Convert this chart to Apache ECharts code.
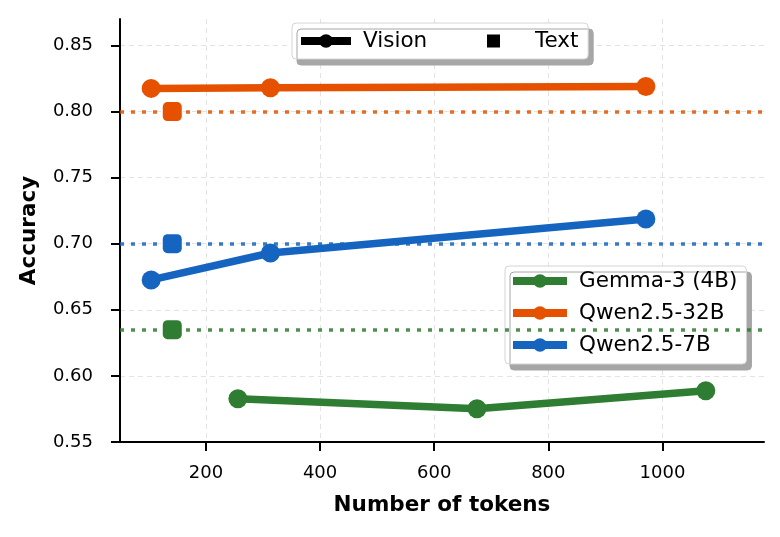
<!DOCTYPE html>
<html><head><meta charset="utf-8">
<script src="https://cdn.jsdelivr.net/npm/echarts@6/dist/echarts.min.js"></script>
<style>html,body{margin:0;padding:0;background:#fff}#c{width:780px;height:537px}</style>
</head><body><div id="c"></div>
<script>
const models = ['Gemma-3 (4B)', 'Qwen2.5-32B', 'Qwen2.5-7B'];
const colors = ['#2E7D32', '#E65100', '#1565C0'];
const gemmaTokens = [256, 675, 1076];
const gemmaVision = [0.5827, 0.5752, 0.5888];
const qwen32Tokens = [104, 313, 971];
const qwen32Vision = [0.8175, 0.818, 0.819];
const qwen7Tokens = [104, 313, 971];
const qwen7Vision = [0.6726, 0.693, 0.7187];
const textTokens = 141;
const textAcc = [0.635, 0.80, 0.70];
const xTicks = [200, 400, 600, 800, 1000];
const yTicks = [0.55, 0.60, 0.65, 0.70, 0.75, 0.80, 0.85];
const xRange = [49.4, 1178];
const yRange = [0.55, 0.87];

const FONT = 'DejaVu Sans';
const visionTok = [gemmaTokens, qwen32Tokens, qwen7Tokens];
const visionAcc = [gemmaVision, qwen32Vision, qwen7Vision];

const series = [];
models.forEach((m, i) => {
  series.push({
    name: m + ' text', type: 'scatter', symbol: 'roundRect', symbolSize: 19,
    itemStyle: {color: colors[i], opacity: 1}, z: 3,
    data: [[textTokens, textAcc[i]]],
    markLine: {
      silent: true, symbol: 'none', label: {show: false}, precision: 6,
      lineStyle: {color: colors[i], opacity: 0.85, width: 3.5, type: [4, 7], cap: 'butt'},
      data: [{yAxis: textAcc[i]}]
    }
  });
});
models.forEach((m, i) => {
  series.push({
    name: m, type: 'line', symbol: 'circle', symbolSize: 19, z: 4,
    itemStyle: {color: colors[i]}, lineStyle: {color: colors[i], width: 7.5},
    data: visionTok[i].map((t, j) => [t, visionAcc[i][j]])
  });
});
series.push({name: 'Vision', type: 'line', symbol: 'circle', itemStyle: {color: '#000'}, lineStyle: {color: '#000', width: 7}, data: []});
series.push({name: 'Text', type: 'scatter', symbol: 'rect', itemStyle: {color: '#000', opacity: 1}, data: []});

const legendCommon = {
  selectedMode: false, backgroundColor: '#fff', borderColor: '#d4d4d4', borderWidth: 1, borderRadius: 4,
  shadowColor: '#a6a6a6', shadowBlur: 0, shadowOffsetX: 5, shadowOffsetY: 6,
  textStyle: {fontFamily: FONT, fontSize: 21.5, color: '#000', padding: [0, 0, 0, 7]},
  itemHeight: 17, lineStyle: {width: 8}
};

const chart = echarts.init(document.getElementById('c'));
chart.setOption({
  animation: false,
  textStyle: {fontFamily: FONT},
  grid: {left: 120, right: 16, top: 19, bottom: 95, containLabel: false},
  legend: [
    Object.assign({}, legendCommon, {
      data: ['Vision'], orient: 'horizontal', left: 292, top: 23,
      itemWidth: 50, padding: [7, 161, 7, 5]
    }),
    {
      selectedMode: false, data: ['Text'], left: 487, top: 24, z: 10,
      itemWidth: 13, itemHeight: 13, padding: [6, 0, 6, 0],
      textStyle: {fontFamily: FONT, fontSize: 21.5, color: '#000', padding: [0, 0, 0, 30]}
    },
    Object.assign({}, legendCommon, {
      data: models, orient: 'vertical', left: 505, top: 266,
      itemWidth: 54, itemGap: 10, padding: [4, 9, 8, 4]
    })
  ],
  xAxis: {
    type: 'value', min: xRange[0], max: xRange[1],
    name: 'Number of tokens', nameLocation: 'middle', nameGap: 52,
    nameTextStyle: {fontFamily: FONT, fontSize: 21.5, fontWeight: 'bold', color: '#000'},
    axisLine: {onZero: false, lineStyle: {color: '#000', width: 2}},
    axisTick: {show: true, length: 9, lineStyle: {color: '#000', width: 2}, customValues: xTicks},
    axisLabel: {fontFamily: FONT, fontSize: 18, color: '#000', margin: 22, customValues: xTicks,
      formatter: v => String(Math.round(v))},
    splitLine: {show: true, lineStyle: {color: '#e3e3e3', width: 1, type: [5, 4]}}
  },
  yAxis: {
    type: 'value', min: yRange[0], max: yRange[1],
    name: 'Accuracy', nameLocation: 'middle', nameGap: 80,
    nameTextStyle: {fontFamily: FONT, fontSize: 21.5, fontWeight: 'bold', color: '#000'},
    axisLine: {onZero: false, lineStyle: {color: '#000', width: 2}},
    axisTick: {show: true, length: 9, lineStyle: {color: '#000', width: 2}, customValues: yTicks},
    axisLabel: {fontFamily: FONT, fontSize: 18, color: '#000', margin: 27, customValues: yTicks,
      formatter: v => v.toFixed(2)},
    splitLine: {show: true, lineStyle: {color: '#e3e3e3', width: 1, type: [5, 4]}}
  },
  series: series
});
</script></body></html>
